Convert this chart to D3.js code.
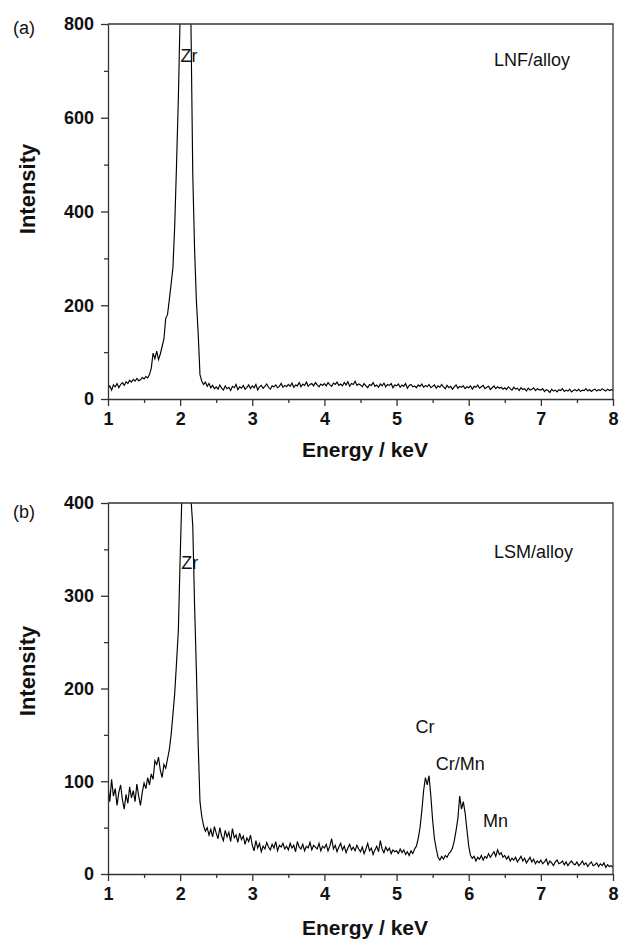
<!DOCTYPE html>
<html lang="en">
  <head>
    <meta charset="utf-8">
    <title>EDX spectra</title>
    <script src="https://d3js.org/d3.v7.min.js"></script>
    <style>
      body { margin: 0; background: #fff; }
      text { font-family: "Liberation Sans", Arial, sans-serif; fill: #111; }
      .tick text { font-size: 18px; font-weight: bold; }
      .axis path, .axis line { stroke: #333; stroke-width: 1.3px; }
    </style>
  </head>
  <body>
    <div id="chart"></div>
    <script>
      // energy grid, keV (channel spacing 0.025)
      var E_START = 1, E_STEP = 0.025;

      // (a) LNF/alloy intensities, one value per channel from 1.0 to 8.0 keV
      var intensityA = [
        22, 28, 19, 30, 26, 33, 24, 31, 35, 29, 37, 33, 40, 36, 42, 38, 44, 39, 41, 46,
        43, 48, 45, 52, 66, 98, 86, 102, 84, 96, 112, 128, 172, 180, 212, 245, 280, 370, 500, 640,
        820, 1000, 1150, 1200, 1120, 980, 800, 480, 320, 210, 140, 52, 38, 31, 36, 27, 33, 24, 29, 22,
        26, 21, 30, 23, 19, 28, 22, 25, 18, 27, 24, 31, 20, 26, 23, 29, 21, 25, 30, 22,
        28, 24, 31, 19, 26, 29, 23, 27, 32, 25, 21, 28, 26, 30, 24, 27, 33, 25, 29, 26,
        31, 27, 34, 25, 30, 28, 35, 26, 32, 29, 36, 27, 31, 33, 28, 35, 30, 26, 32, 29,
        33, 28, 35, 30, 27, 34, 31, 36, 29, 32, 28, 35, 30, 37, 27, 33, 31, 38, 29, 32,
        30, 26, 33, 28, 24, 31, 29, 35, 27, 30, 25, 32, 28, 34, 26, 31, 29, 33, 24, 30,
        28, 32, 25, 30, 27, 33, 23, 29, 31, 26, 28, 24, 30, 27, 32, 25, 29, 26, 31, 24,
        27, 30, 23, 28, 25, 31, 26, 22, 29, 24, 27, 21, 26, 30, 23, 27, 25, 28, 22, 26,
        24, 28, 21, 27, 25, 30, 23, 26, 29, 22, 25, 27, 20, 24, 28, 22, 26, 23, 25, 21,
        24, 20, 26, 22, 19, 25, 21, 23, 18, 24, 20, 22, 17, 23, 19, 21, 24, 18, 22, 20,
        19, 22, 16, 20, 18, 14, 21, 17, 19, 15, 20, 18, 22, 16, 19, 17, 21, 15, 18, 20,
        17, 21, 16, 19, 18, 22, 17, 20, 16, 19, 21, 17, 20, 18, 22, 19, 17, 21, 18, 20,
        19
      ];

      // (b) LSM/alloy intensities, same grid
      var intensityB = [
        95, 78, 102, 84, 92, 74, 88, 96, 80, 70, 86, 76, 94, 82, 90, 78, 97, 84, 74, 88,
        98, 92, 104, 96, 108, 102, 122, 118, 126, 112, 104, 118, 114, 124, 134, 150, 172, 195, 228, 262,
        340, 410, 460, 490, 480, 450, 405, 375, 290, 220, 140, 78, 62, 52, 46, 50, 42, 48, 40, 51,
        44, 38, 50, 41, 36, 47, 40, 45, 35, 49, 39, 42, 34, 44, 37, 41, 32, 39, 35, 42,
        31, 25, 36, 28, 33, 24, 30, 27, 34, 29, 26, 32, 28, 35, 25, 31, 29, 33, 27, 30,
        26, 33, 28, 31, 24, 35, 29, 27, 32, 25, 30, 28, 34, 26, 31, 29, 27, 33, 25, 30,
        28, 32, 25, 30, 38, 27, 31, 24, 29, 33, 26, 30, 23, 28, 32, 26, 29, 25, 31, 27,
        24, 29, 22, 27, 33, 25, 28, 21, 26, 30, 24, 36, 27, 23, 29, 25, 28, 22, 26, 24,
        25, 22, 27, 23, 26, 21, 24, 20, 25, 22, 27, 30, 38, 50, 68, 90, 104, 96, 106, 84,
        58, 38, 27, 18, 15, 19, 16, 20, 18, 22, 24, 28, 36, 47, 60, 84, 70, 78, 66, 48,
        30, 20, 17, 19, 14, 18, 16, 20, 15, 19, 17, 22, 18, 21, 24, 19, 26, 21, 23, 18,
        20, 16, 19, 14, 17, 15, 18, 13, 16, 19, 14, 17, 12, 15, 18, 13, 16, 11, 14, 12,
        15, 11, 13, 16, 10, 14, 12, 9, 13, 15, 11, 12, 14, 10, 13, 9, 12, 14, 11, 10,
        13, 9, 11, 14, 10, 12, 8, 11, 13, 9, 10, 12, 8, 11, 9, 12, 7, 10, 8, 9,
        7
      ];

      var xMajor = [1, 2, 3, 4, 5, 6, 7, 8];
      var xMinor = [1.5, 2.5, 3.5, 4.5, 5.5, 6.5, 7.5];
      var yMajorA = [0, 200, 400, 600, 800];
      var yMinorA = [100, 300, 500, 700];
      var yMajorB = [0, 100, 200, 300, 400];
      var yMinorB = [50, 150, 250, 350];

      var peakLabelsA = [{text: "Zr", e: 2.02}];
      var peakLabelsB = [
        {text: "Zr", e: 2.0},
        {text: "Cr", e: 5.4},
        {text: "Cr/Mn", e: 5.75},
        {text: "Mn", e: 6.1}
      ];

      var W = 619, H = 941;
      var left = 108, right = 613;

      var svg = d3.select("#chart").append("svg")
        .attr("width", W)
        .attr("height", H);

      var xScale = d3.scaleLinear().domain([1, 8]).range([left, right]);

      function drawPanel(opts) {
        var yScale = d3.scaleLinear().domain([0, opts.ymax]).range([opts.bottom, opts.top]);
        var g = svg.append("g");

        var pts = opts.values.map(function(v, i) {
          return [E_START + i * E_STEP, v];
        });

        g.append("clipPath").attr("id", opts.id + "clip")
          .append("rect")
          .attr("x", left).attr("y", opts.top)
          .attr("width", right - left).attr("height", opts.bottom - opts.top);

        var line = d3.line()
          .x(function(d) { return xScale(d[0]); })
          .y(function(d) { return yScale(d[1]); });

        g.append("path")
          .datum(pts)
          .attr("clip-path", "url(#" + opts.id + "clip)")
          .attr("fill", "none")
          .attr("stroke", "#000")
          .attr("stroke-width", 1.15)
          .attr("d", line);

        // frame (top + right)
        g.append("path")
          .attr("d", "M" + left + "," + opts.top + "H" + right + "V" + opts.bottom)
          .attr("fill", "none")
          .attr("stroke", "#333")
          .attr("stroke-width", 1.3);

        // x axis
        g.append("g").attr("class", "axis")
          .attr("transform", "translate(0," + opts.bottom + ")")
          .call(d3.axisBottom(xScale).tickValues(xMajor).tickSize(7).tickSizeOuter(0).tickPadding(6).tickFormat(d3.format("d")));
        g.append("g").attr("class", "axis")
          .attr("transform", "translate(0," + opts.bottom + ")")
          .call(d3.axisBottom(xScale).tickValues(xMinor).tickSize(4).tickSizeOuter(0).tickFormat(""))
          .select(".domain").remove();

        // y axis
        g.append("g").attr("class", "axis")
          .attr("transform", "translate(" + left + ",0)")
          .call(d3.axisLeft(yScale).tickValues(opts.yMajor).tickSize(7).tickSizeOuter(0).tickPadding(7).tickFormat(d3.format("d")));
        g.append("g").attr("class", "axis")
          .attr("transform", "translate(" + left + ",0)")
          .call(d3.axisLeft(yScale).tickValues(opts.yMinor).tickSize(4).tickSizeOuter(0).tickFormat(""))
          .select(".domain").remove();

        g.selectAll(".tick text").attr("fill", "#111");

        // axis titles
        g.append("text")
          .text("Energy / keV")
          .attr("x", 365)
          .attr("y", opts.xTitleY)
          .attr("text-anchor", "middle")
          .style("font-size", "21px")
          .style("font-weight", "bold");

        g.append("text")
          .text("Intensity")
          .attr("transform", "translate(35," + opts.yTitleY + ") rotate(-90)")
          .attr("text-anchor", "middle")
          .style("font-size", "22px")
          .style("font-weight", "bold");

        // panel letter + sample name
        g.append("text").text(opts.letter)
          .attr("x", 13).attr("y", opts.letterY)
          .style("font-size", "18px");
        g.append("text").text(opts.sample)
          .attr("x", 494).attr("y", opts.sampleY)
          .style("font-size", "18px");

        g.selectAll(".peak")
          .data(opts.peaks)
          .enter().append("text")
          .attr("class", "peak")
          .text(function(d) { return d.text; })
          .attr("x", function(d) { return d.x; })
          .attr("y", function(d) { return d.y; })
          .style("font-size", "18px");
      }

      drawPanel({
        id: "a", values: intensityA, ymax: 800, top: 24, bottom: 399,
        yMajor: yMajorA, yMinor: yMinorA,
        xTitleY: 457, yTitleY: 189,
        letter: "(a)", letterY: 34, sample: "LNF/alloy", sampleY: 66,
        peaks: [{text: peakLabelsA[0].text, x: xScale(peakLabelsA[0].e) - 1, y: 62}]
      });

      drawPanel({
        id: "b", values: intensityB, ymax: 400, top: 503, bottom: 874,
        yMajor: yMajorB, yMinor: yMinorB,
        xTitleY: 935, yTitleY: 671,
        letter: "(b)", letterY: 518, sample: "LSM/alloy", sampleY: 558,
        peaks: [
          {text: peakLabelsB[0].text, x: xScale(peakLabelsB[0].e) + 1, y: 569},
          {text: peakLabelsB[1].text, x: xScale(peakLabelsB[1].e) - 10, y: 733},
          {text: peakLabelsB[2].text, x: xScale(peakLabelsB[2].e) - 15, y: 770},
          {text: peakLabelsB[3].text, x: xScale(peakLabelsB[3].e) + 7, y: 827}
        ]
      });
    </script>
  </body>
</html>
